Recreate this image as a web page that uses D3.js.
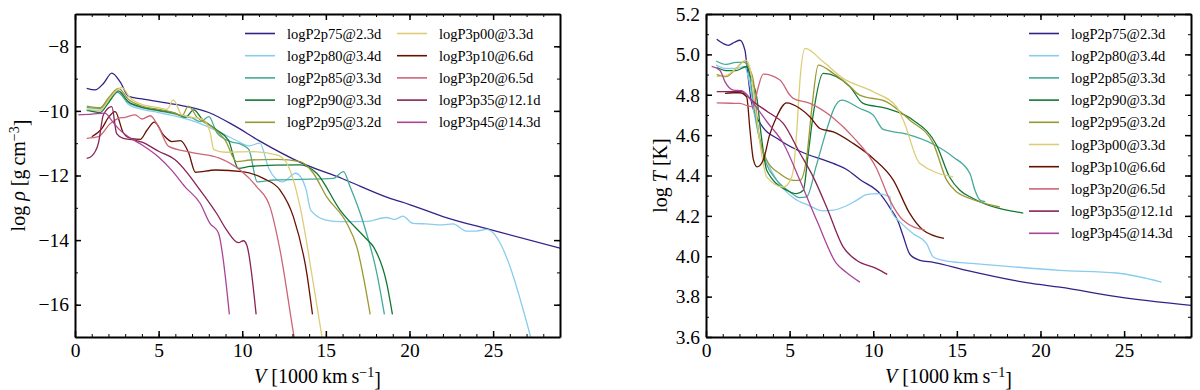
<!DOCTYPE html>
<html>
<head>
<meta charset="utf-8">
<script src="https://cdn.jsdelivr.net/npm/d3@7"></script>
<style>
  body { margin: 0; background: #fff; }
  svg text { font-family: "Liberation Serif", serif; fill: #000; }
</style>
</head>
<body>
<svg id="chart" width="1200" height="390"></svg>
<script>
const models = ['logP2p75@2.3d', 'logP2p80@3.4d', 'logP2p85@3.3d', 'logP2p90@3.3d', 'logP2p95@3.2d',
  'logP3p00@3.3d', 'logP3p10@6.6d', 'logP3p20@6.5d', 'logP3p35@12.1d', 'logP3p45@14.3d']
const colors = ['#332288', '#88CCEE', '#44AA99', '#117733', '#999933',
  '#DDCC77', '#661100', '#CC6677', '#882255', '#AA4499']

// log rho [g cm^-3] against V [1000 km/s]
const rhoP2p75 = [[0.7, -9.3], [1.2, -9.35], [1.7, -9.15], [2.2, -8.83], [2.7, -9.1], [3.2, -9.55], [4, -9.63],
  [6, -9.8], [8, -10.05], [9.5, -10.45], [11, -10.92], [13.5, -11.6], [16, -12.1], [18.8, -12.7], [20, -12.9],
  [22, -13.27], [25, -13.7], [29, -14.25]]
const rhoP2p80 = [[0.7, -10.0], [1.5, -9.98], [2.1, -9.65], [2.6, -9.42], [3.2, -9.8], [4, -9.95], [5, -10.05],
  [6, -10.16], [7, -10.3], [8, -10.5], [9, -10.75], [9.6, -10.9], [10.4, -11.08], [11.05, -11.0], [11.6, -11.8],
  [12.4, -12.2], [13.2, -11.93], [13.8, -12.4], [14.1, -13.08], [15, -13.38], [15.9, -13.43], [17.5, -13.42],
  [18.6, -13.3], [19.1, -13.36], [19.6, -13.26], [20.2, -13.48], [21, -13.5], [22, -13.53], [22.6, -13.5],
  [23.4, -13.72], [24, -13.72], [24.6, -13.67], [27.4, -17.3]]
const rhoP2p85 = [[0.7, -9.9], [1.5, -9.92], [2.0, -9.65], [2.5, -9.42], [3.2, -9.75], [4, -9.9], [5, -10.0],
  [6, -10.1], [7, -10.22], [7.5, -10.33], [8.0, -10.18], [8.5, -10.69], [9.3, -10.95], [10.0, -11.05],
  [10.4, -11.2], [10.9, -12.2], [11.9, -12.14], [13.5, -12.12], [15.45, -12.09], [16.05, -11.88], [16.45, -12.35],
  [17.25, -13.48], [18.05, -15.03], [18.5, -16.3]]
const rhoP2p90 = [[0.7, -9.97], [1.5, -10.05], [2.0, -9.75], [2.6, -9.38], [3.2, -9.72], [4, -9.88], [5, -9.98],
  [6, -10.08], [6.6, -10.2], [7.1, -9.97], [7.6, -10.25], [8.5, -10.6], [9.17, -10.9], [9.77, -11.78],
  [10.47, -11.72], [12, -11.68], [13.46, -11.67], [14.45, -11.93], [15.85, -13.07], [17.4, -13.95],
  [17.85, -14.21], [18.64, -15.34], [18.98, -16.3]]
const rhoP2p95 = [[0.7, -9.85], [1.5, -9.9], [2.0, -9.6], [2.6, -9.3], [3.2, -9.65], [4, -9.85], [5, -9.95],
  [6, -10.07], [6.4, -10.15], [6.78, -9.85], [7.3, -10.2], [8.2, -10.5], [8.97, -10.9], [9.67, -11.57],
  [10.47, -11.52], [12.06, -11.5], [13.46, -11.57], [14.25, -11.93], [15.05, -12.66], [16.25, -13.48],
  [16.85, -14.21], [17.65, -16.3]]
const rhoP3p00 = [[0.7, -9.95], [1.5, -9.98], [2.1, -9.6], [2.8, -9.27], [3.3, -9.6], [4, -9.8], [5, -9.9],
  [5.5, -9.95], [5.88, -9.66], [6.38, -10.12], [7, -10.2], [7.6, -10.25], [8.07, -10.64], [8.3, -11.2],
  [9, -11.28], [10.47, -11.26], [12.06, -11.36], [12.66, -11.62], [13.46, -12.97], [14.25, -15.34], [14.8, -17.1]]
const rhoP3p10 = [[1.0, -10.8], [1.6, -10.55], [2.0, -10.2], [2.4, -10.02], [2.9, -10.69], [3.4, -10.86],
  [3.9, -10.88], [4.3, -10.6], [4.75, -10.35], [5.3, -10.75], [5.8, -10.95], [6.3, -10.92], [6.8, -11.3],
  [7.2, -11.9], [8.4, -11.83], [10, -11.88], [11.26, -12.09], [12.26, -12.45], [13.06, -13.28], [13.86, -15.03],
  [14.2, -16.3]]
const rhoP3p20 = [[0.7, -10.85], [1.4, -10.8], [2.1, -10.4], [2.6, -10.23], [3.0, -10.2], [3.6, -10.12],
  [4.0, -10.25], [4.5, -10.15], [5.0, -10.5], [5.6, -11.1], [7, -11.29], [8.67, -11.47], [9.87, -11.83],
  [10.87, -12.35], [11.66, -12.97], [12.26, -14.31], [13.1, -17.0], [13.2, -17.3]]
const rhoP3p35 = [[0.7, -11.47], [1.0, -11.4], [1.4, -11.0], [1.7, -10.12], [2.2, -9.87], [2.49, -10.7],
  [2.89, -10.85], [3.5, -10.9], [4, -10.97], [5, -11.25], [6, -11.52], [7.48, -12.45], [8.5, -13.2],
  [9.07, -13.69], [9.77, -14.08], [10.07, -14.02], [10.27, -14.15], [10.83, -16.3]]
const rhoP3p45 = [[0.2, -10.12], [1.0, -10.1], [1.79, -10.07], [2.2, -10.3], [2.6, -10.55], [3.19, -10.8],
  [4, -11.05], [4.98, -11.42], [5.8, -11.85], [6.58, -12.35], [7.48, -12.86], [8.07, -13.48], [8.57, -13.77],
  [9.23, -16.3]]

// log T [K] against V [1000 km/s]
const tempP2p75 = [[0.64, 5.075], [1.0, 5.055], [1.33, 5.045], [1.7, 5.06], [2.03, 5.07], [2.33, 5.02], [2.5, 4.9],
  [2.73, 4.76], [3.23, 4.66], [4.42, 4.575], [5.62, 4.52], [7.61, 4.46], [8.41, 4.43], [9.2, 4.38], [10.4, 4.31],
  [11.0, 4.24], [11.5, 4.17], [11.79, 4.1], [12.19, 4.01], [12.79, 3.98], [13.59, 3.97], [15.58, 3.93],
  [19.56, 3.864], [21.16, 3.847], [24.55, 3.8], [29.03, 3.756]]
const tempP2p80 = [[0.6, 4.947], [1.2, 4.93], [1.8, 4.93], [2.3, 4.94], [2.6, 4.86], [2.9, 4.7], [3.2, 4.58],
  [3.6, 4.48], [4.2, 4.38], [5.22, 4.29], [6.2, 4.25], [7.0, 4.225], [7.61, 4.228], [8.4, 4.25], [9.0, 4.277],
  [9.6, 4.305], [10.2, 4.31], [11.0, 4.295], [11.1, 4.22], [11.6, 4.17], [12.39, 4.112], [13.19, 4.063],
  [13.59, 3.996], [14.2, 3.98], [15.58, 3.966], [16.57, 3.96], [21.16, 3.93], [24.55, 3.917], [27.24, 3.872]]
const tempP2p85 = [[0.6, 4.967], [1.2, 4.95], [1.8, 4.96], [2.3, 4.96], [2.6, 4.9], [2.9, 4.72], [3.2, 4.58],
  [3.6, 4.46], [4.2, 4.38], [5.0, 4.32], [5.6, 4.29], [6.02, 4.294], [6.6, 4.45], [7.21, 4.625], [7.7, 4.74],
  [8.11, 4.773], [9.2, 4.732], [10.0, 4.699], [10.6, 4.628], [12.0, 4.605], [13.59, 4.555], [14.78, 4.492],
  [15.78, 4.41], [16.08, 4.327], [16.4, 4.277], [16.7, 4.27]]
const tempP2p90 = [[0.64, 4.935], [1.2, 4.92], [1.8, 4.92], [2.43, 4.94], [2.7, 4.88], [3.03, 4.79], [3.3, 4.6],
  [3.63, 4.426], [4.82, 4.327], [5.42, 4.31], [5.82, 4.327], [6.1, 4.5], [6.42, 4.707], [7.01, 4.906],
  [8.61, 4.84], [9.4, 4.757], [10.8, 4.732], [12.39, 4.674], [13.79, 4.55], [14.58, 4.39], [15.18, 4.327],
  [15.98, 4.286], [18.97, 4.214]]
const tempP2p95 = [[0.64, 4.9], [1.2, 4.89], [1.8, 4.93], [2.33, 4.968], [2.6, 4.93], [2.83, 4.87], [3.13, 4.625],
  [3.63, 4.476], [4.4, 4.41], [5.22, 4.376], [5.62, 4.376], [6.02, 4.49], [6.35, 4.75], [6.71, 4.947],
  [7.61, 4.906], [8.5, 4.85], [9.2, 4.798], [10.8, 4.765], [12.19, 4.674], [13.59, 4.559], [14.39, 4.377],
  [14.99, 4.318], [15.78, 4.286], [17.57, 4.244]]
const tempP3p00 = [[0.64, 4.89], [1.2, 4.895], [1.8, 4.93], [2.43, 4.97], [2.7, 4.9], [3.0, 4.7], [3.3, 4.52],
  [3.63, 4.393], [4.62, 4.343], [5.0, 4.37], [5.22, 4.426], [5.45, 4.65], [5.62, 4.873], [5.92, 5.03],
  [7.01, 4.963], [8.2, 4.881], [10.0, 4.815], [11.4, 4.74], [11.8, 4.674], [12.79, 4.459], [14.78, 4.393]]
const tempP3p10 = [[1.14, 4.807], [1.6, 4.81], [2.03, 4.81], [2.43, 4.79], [2.63, 4.625], [2.83, 4.48],
  [3.05, 4.443], [3.42, 4.476], [3.8, 4.6], [4.22, 4.69], [4.82, 4.76], [5.62, 4.732], [6.22, 4.69],
  [6.81, 4.633], [7.61, 4.616], [8.8, 4.559], [10.0, 4.484], [11.2, 4.377], [12.19, 4.211], [12.99, 4.129],
  [14.23, 4.089]]
const tempP3p20 = [[0.64, 4.76], [1.5, 4.758], [2.03, 4.757], [2.5, 4.745], [2.83, 4.74], [3.1, 4.83],
  [3.42, 4.902], [4.42, 4.873], [5.0, 4.8], [5.22, 4.782], [6.22, 4.757], [7.61, 4.685], [8.8, 4.59],
  [10.2, 4.435], [11.0, 4.277], [11.79, 4.178], [13.09, 4.129]]
const tempP3p35 = [[0.64, 4.815], [1.4, 4.815], [2.13, 4.815], [2.83, 4.765], [3.7, 4.715], [4.62, 4.658],
  [5.62, 4.51], [6.41, 4.393], [7.21, 4.244], [8.2, 4.046], [9.0, 3.98], [10.2, 3.939], [10.84, 3.91]]
const tempP3p45 = [[0.34, 4.94], [0.84, 4.92], [1.14, 4.864], [1.63, 4.823], [2.13, 4.82], [2.83, 4.757],
  [3.7, 4.66], [4.62, 4.56], [5.62, 4.375], [6.62, 4.178], [7.81, 3.963], [8.4, 3.92], [9.2, 3.872]]

const rhoSeries = [rhoP2p75, rhoP2p80, rhoP2p85, rhoP2p90, rhoP2p95, rhoP3p00, rhoP3p10, rhoP3p20, rhoP3p35, rhoP3p45]
const tempSeries = [tempP2p75, tempP2p80, tempP2p85, tempP2p90, tempP2p95, tempP3p00, tempP3p10, tempP3p20, tempP3p35, tempP3p45]

const vTicks = [0, 5, 10, 15, 20, 25]
const vMinor = d3.range(0, 30, 1)
const rhoTicks = [-16, -14, -12, -10, -8]
const rhoMinor = d3.range(-17, -6, 1)
const tempTicks = [3.6, 3.8, 4.0, 4.2, 4.4, 4.6, 4.8, 5.0, 5.2]
const tempMinor = d3.range(36, 53, 1).map(d => d / 10)

const serif = '"Liberation Serif", serif'
const svg = d3.select('#chart')

const drawPanel = ({id, left, right, top, bottom, yDomain, yTicks, yMinor, yFormat, series, legend, ylabel, ylabelX}) => {
  const x = d3.scaleLinear().domain([0, 29]).range([left, right])
  const y = d3.scaleLinear().domain(yDomain).range([bottom, top])
  const g = svg.append('g')

  g.append('clipPath').attr('id', `clip-${id}`)
    .append('rect').attr('x', left).attr('y', top).attr('width', right - left).attr('height', bottom - top)

  const line = d3.line().x(d => x(d[0])).y(d => y(d[1])).curve(d3.curveMonotoneX)
  g.append('g').attr('clip-path', `url(#clip-${id})`)
    .selectAll('path').data(series).join('path')
    .attr('d', line)
    .attr('fill', 'none')
    .attr('stroke', (d, i) => colors[i])
    .attr('stroke-width', 1.3)
    .attr('stroke-linejoin', 'round')

  // minor ticks on all four sides
  const minor = [
    [d3.axisBottom(x).tickValues(vMinor), `translate(0,${bottom})`],
    [d3.axisTop(x).tickValues(vMinor), `translate(0,${top})`],
    [d3.axisLeft(y).tickValues(yMinor), `translate(${left},0)`],
    [d3.axisRight(y).tickValues(yMinor), `translate(${right},0)`]
  ]
  minor.forEach(([axis, tr]) => {
    const a = g.append('g').attr('transform', tr)
      .call(axis.tickSize(-3).tickSizeOuter(0).tickFormat(''))
    a.select('.domain').remove()
    a.selectAll('line').attr('stroke-width', 1)
  })

  const major = [
    [d3.axisBottom(x).tickValues(vTicks).tickFormat(d3.format('d')), `translate(0,${bottom})`],
    [d3.axisTop(x).tickValues(vTicks).tickFormat(''), `translate(0,${top})`],
    [d3.axisLeft(y).tickValues(yTicks).tickFormat(yFormat), `translate(${left},0)`],
    [d3.axisRight(y).tickValues(yTicks).tickFormat(''), `translate(${right},0)`]
  ]
  major.forEach(([axis, tr]) => {
    const a = g.append('g').attr('transform', tr)
      .call(axis.tickSize(-6).tickSizeOuter(0).tickPadding(6))
    a.attr('font-family', serif).attr('font-size', 19)
    a.select('.domain').attr('stroke-width', 2)
    a.selectAll('line').attr('stroke-width', 1.5)
    a.selectAll('text').style('font-family', serif).style('font-size', '19.5px')
  })

  // x label
  const xl = g.append('text')
    .attr('x', (left + right) / 2).attr('y', 383)
    .attr('text-anchor', 'middle').style('font-size', '20px')
  xl.append('tspan').attr('font-style', 'italic').text('V')
  xl.append('tspan').text(' [1000\u2009km\u2009s')
  xl.append('tspan').attr('dy', '-0.45em').style('font-size', '14px').text('\u22121')
  xl.append('tspan').attr('dy', '0.45em').text(']')

  // y label
  const yl = g.append('text')
    .attr('transform', `translate(${ylabelX},${(top + bottom) / 2}) rotate(-90)`)
    .attr('text-anchor', 'middle').style('font-size', '20px')
  ylabel(yl)

  // legend
  const lg = g.append('g')
  legend.forEach(({x0, y0, items}) => {
    items.forEach((idx, k) => {
      const yy = y0 + k * 22.2
      lg.append('line')
        .attr('x1', x0).attr('x2', x0 + 30).attr('y1', yy).attr('y2', yy)
        .attr('stroke', colors[idx]).attr('stroke-width', 1.6)
      lg.append('text')
        .attr('x', x0 + 42).attr('y', yy + 5)
        .style('font-size', '14.5px')
        .text(models[idx])
    })
  })
}

drawPanel({
  id: 'rho', left: 75, right: 560, top: 14, bottom: 337,
  yDomain: [-17, -7], yTicks: rhoTicks, yMinor: rhoMinor, yFormat: d3.format('d'),
  series: rhoSeries,
  legend: [{x0: 245, y0: 33.5, items: [0, 1, 2, 3, 4]}, {x0: 397, y0: 33.5, items: [5, 6, 7, 8, 9]}],
  ylabelX: 25,
  ylabel: t => {
    t.append('tspan').text('log ')
    t.append('tspan').attr('font-style', 'italic').text('\u03c1')
    t.append('tspan').text(' [g\u2009cm')
    t.append('tspan').attr('dy', '-0.45em').style('font-size', '14px').text('\u22123')
    t.append('tspan').attr('dy', '0.45em').text(']')
  }
})

drawPanel({
  id: 'temp', left: 706, right: 1191, top: 14, bottom: 337,
  yDomain: [3.6, 5.2], yTicks: tempTicks, yMinor: tempMinor, yFormat: d3.format('.1f'),
  series: tempSeries,
  legend: [{x0: 1029, y0: 33.5, items: d3.range(10)}],
  ylabelX: 667,
  ylabel: t => {
    t.append('tspan').text('log ')
    t.append('tspan').attr('font-style', 'italic').text('T')
    t.append('tspan').text(' [K]')
  }
})
</script>
</body>
</html>
